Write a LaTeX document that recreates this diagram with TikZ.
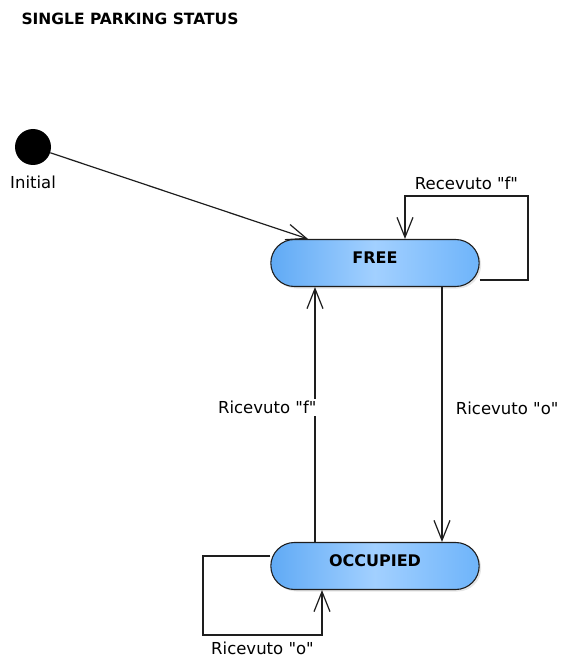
\documentclass[tikz,border=0pt]{standalone}
\usepackage{fontspec}
\setmainfont{DejaVu Sans}[Ligatures=TeXOff]
\usepackage{tikz}
\usetikzlibrary{shapes.misc,arrows.meta,positioning,shadows}
\definecolor{stateL}{RGB}{96,170,245}
\definecolor{stateM}{RGB}{162,208,255}
\definecolor{stateR}{RGB}{110,180,250}
\definecolor{edge}{RGB}{30,30,30}

\begin{document}
\begin{tikzpicture}[x=1pt, y=-1pt,
    txt/.style={font=\fontsize{16.5}{19}\selectfont},
    state/.style={rounded rectangle, draw=edge, line width=1.1pt,
        minimum width=215pt, minimum height=47pt, text depth=10pt,
        left color=stateL, right color=stateR, middle color=stateM,
        drop shadow={shadow xshift=2pt, shadow yshift=-2pt, opacity=0.2},
        font=\bfseries\fontsize{16}{19}\selectfont},
    trans/.style={draw=edge, line width=1.2pt,
        -{Straight Barb[length=20pt, width=16pt, line width=1.2pt]}}]
    \useasboundingbox (0,0) rectangle (565,660);

    \node[anchor=west, font=\bfseries\fontsize{15.5}{18}\selectfont] (title) at (18,19) {SINGLE PARKING STATUS};

    \node[circle, fill=black, minimum size=36pt, inner sep=0pt] (init) at (33,147) {};
    \node[txt, below=7pt of init] (initlbl) {Initial};

    \node[state] (free) at (375,263) {FREE};
    \node[state] (occ) at (375,566) {OCCUPIED};

    \draw[trans] (init) -- ([xshift=-67pt]free.north);
    \draw[trans] ([yshift=-17pt]free.east) -| (528,196)
        -| node[txt, pos=0.25, above, yshift=2pt] {Recevuto "f"} ([xshift=30pt]free.north);
    \draw[trans] ([xshift=67pt]free.south) --
        node[txt, right, xshift=10pt, yshift=6pt] {Ricevuto "o"} ([xshift=67pt]occ.north);
    \draw[trans] ([xshift=-60pt]occ.north) --
        node[txt, fill=white, anchor=east, xshift=4pt, yshift=7pt, inner sep=2pt] {Ricevuto "f"} ([xshift=-60pt]free.south);
    \draw[trans] ([yshift=10pt]occ.west) -| (203,635)
        -| node[txt, pos=0.25, below, yshift=-3pt] {Ricevuto "o"} ([xshift=-53pt]occ.south);
\end{tikzpicture}
\end{document}
